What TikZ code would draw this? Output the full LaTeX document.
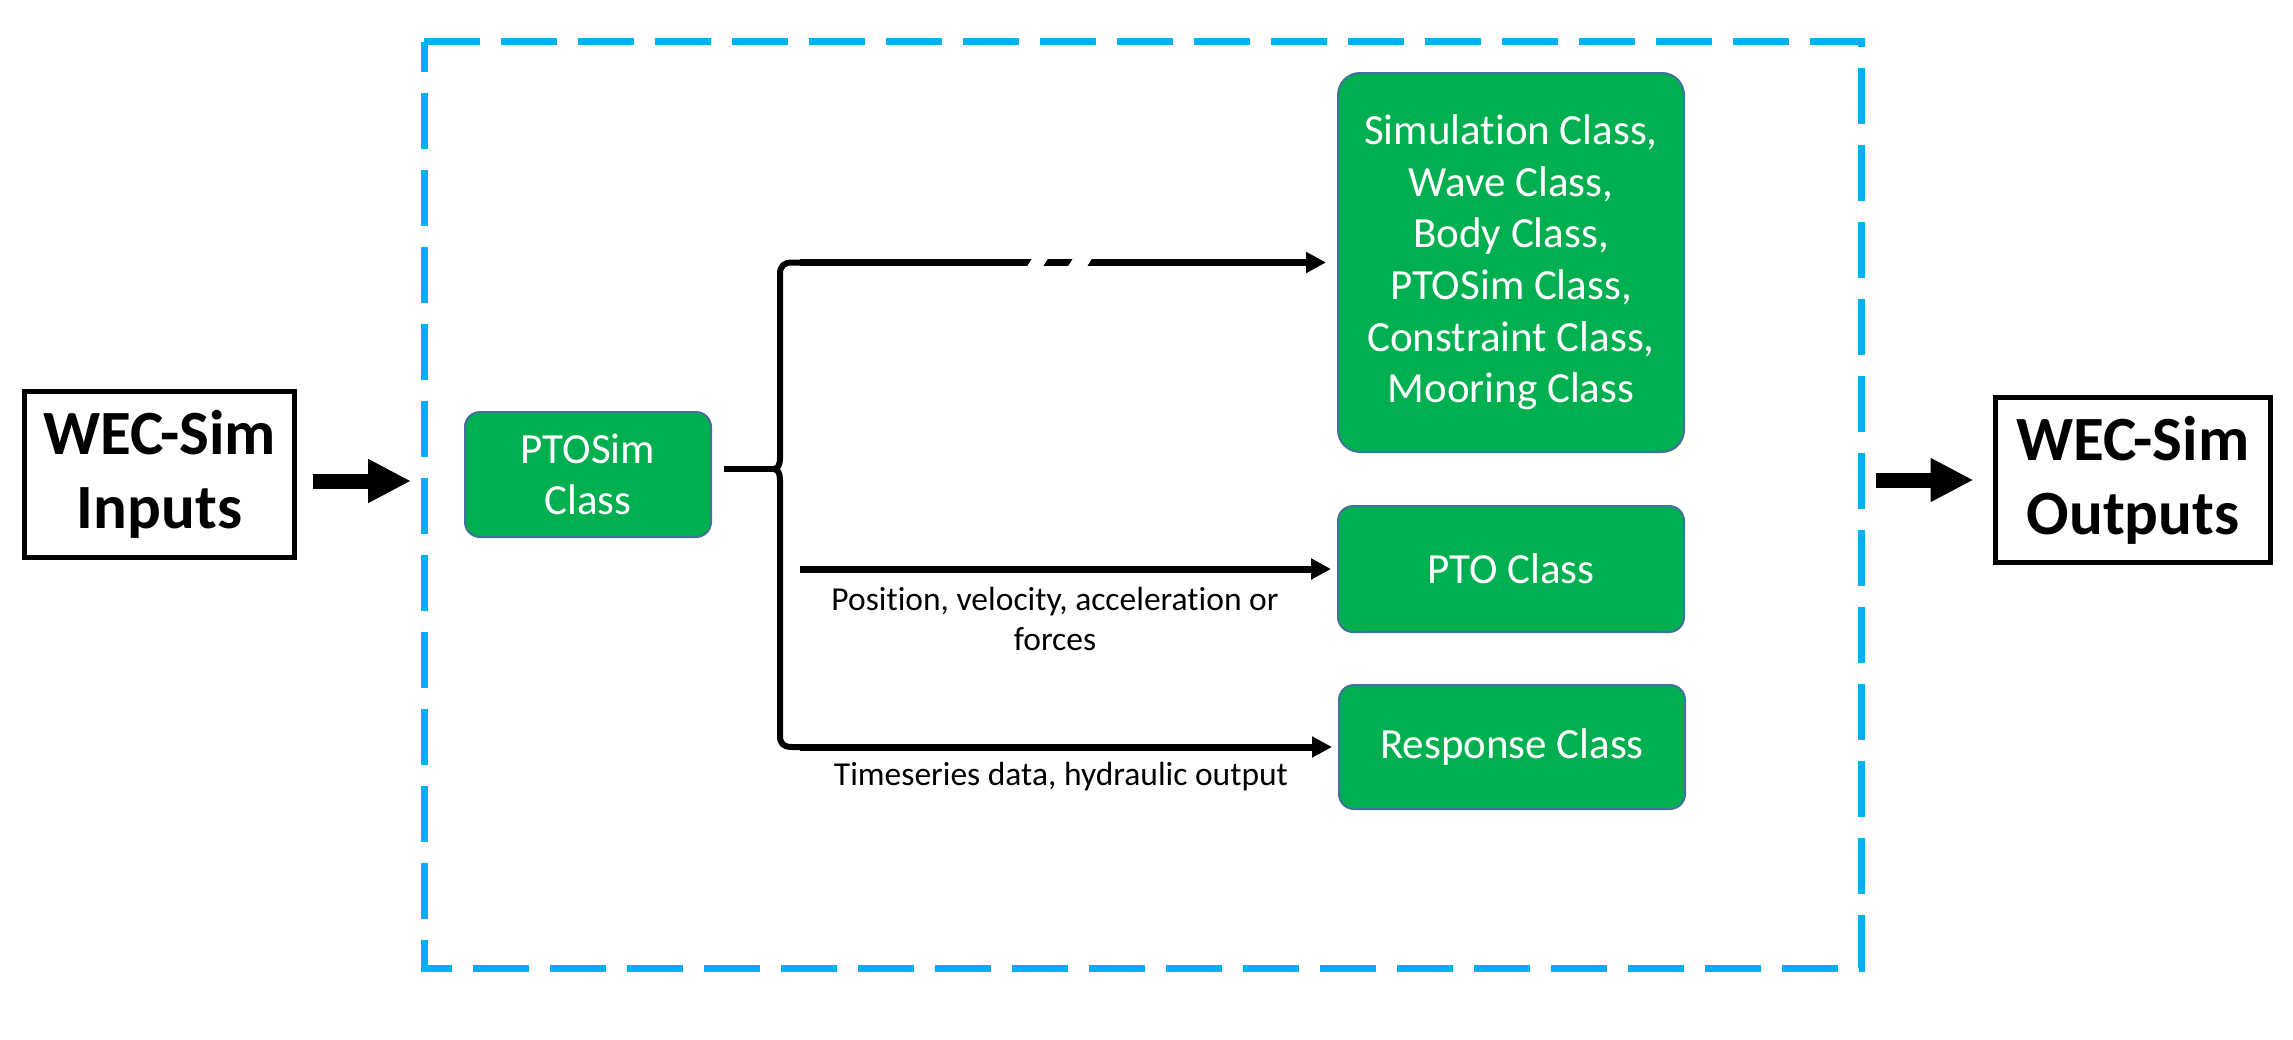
\documentclass[tikz,border=0pt]{standalone}
\usepackage{fontspec}
\setmainfont{Carlito}[Ligatures={NoCommon}]
\usetikzlibrary{arrows.meta}
\definecolor{grn}{RGB}{0,176,80}
\definecolor{grnborder}{RGB}{65,113,156}
\definecolor{frameblue}{RGB}{0,176,240}
\begin{document}
\begin{tikzpicture}[x=1pt,y=-1pt,
  greenbox/.style={draw=grnborder, line width=2pt, fill=grn, rounded corners=15pt, text=white, align=center, inner sep=0pt, font=\fontsize{43}{51.6}\selectfont},
  iobox/.style={draw=black, line width=5pt, align=center, inner sep=0pt, font=\fontsize{63}{74}\selectfont\bfseries},
  flow/.style={line width=7pt, -{Triangle[length=20pt,width=20pt]}},
  bigflow/.style={line width=15pt, -{Triangle[length=43pt,width=41pt]}},
  bracestyle/.style={line width=6pt, line join=miter},
  lbl/.style={align=center, inner sep=0pt, font=\fontsize{33.5}{40}\selectfont},
  framestyle/.style={draw=frameblue, line width=7pt, dash pattern=on 56pt off 21pt}
]
\useasboundingbox (0,0) rectangle (2293,1039);

% dashed frame
\draw[framestyle] (424,41.5) -- (1861,41.5) -- (1861,968) -- (424,968) -- cycle;

% input / output boxes
\node[iobox, minimum width=270pt, minimum height=166pt] (inputs) at (159.5,474.5) {WEC-Sim\\Inputs};
\node[iobox, minimum width=275pt, minimum height=165pt] (outputs) at (2133,480) {WEC-Sim\\Outputs};

% green boxes
\node[greenbox, minimum width=246pt, minimum height=125pt] (ptosim) at (588,474.5) {PTOSim\\Class};
\node[greenbox, rounded corners=22pt, minimum width=346pt, minimum height=379pt] (big) at (1511,262.5) {Simulation Class,\\Wave Class,\\Body Class,\\PTOSim Class,\\Constraint Class,\\Mooring Class};
\node[greenbox, minimum width=346pt, minimum height=126pt] (pto) at (1511,569) {PTO Class};
\node[greenbox, minimum width=346pt, minimum height=124pt] (resp) at (1512,747) {Response Class};

% big in/out arrows
\coordinate (inTip) at (411,481);
\coordinate (outTail) at (1876,480);
\draw[bigflow, shorten <=15.5pt] (inputs.east |- inTip) -- (inTip);
\draw[bigflow, shorten >=19.5pt] (outTail) -- (outputs.west |- outTail);

% brace
\coordinate (tip) at (773,469);
\coordinate (bt) at (800,262.5);
\coordinate (bb) at (800,747);
\coordinate (pt) at (800,569);
\draw[line width=6pt, shorten <=12pt] (ptosim.east |- tip) -- (tip);
\draw[bracestyle] (808,262.5) -- (792,262.5) .. controls (784,262.5) and (780,266) .. (780,274) -- (780,458) .. controls (780,465) and (778,469) .. (tip) .. controls (778,469) and (780,473) .. (780,480) -- (780,736) .. controls (780,744) and (784,747) .. (792,747) -- (808,747);

% arrows to classes
\draw[flow, shorten >=11pt] (bt) -- (big.west);
\draw[flow, shorten >=6pt] (pt) -- (pto.west);
\draw[flow, shorten >=6pt] (bb) -- (resp.west);

% break marks on top arrow
\fill[white] (1026,268) -- (1042,268) -- (1049,257) -- (1033,257) -- cycle;
\fill[white] (1067,268) -- (1086,268) -- (1093,257) -- (1074,257) -- cycle;

% labels
\node[lbl] (lblpos) at (1055,619) {Position, velocity, acceleration or\\forces};
\node[lbl] (lblts) at (1061,777) {Timeseries data, hydraulic output};
\end{tikzpicture}
\end{document}
